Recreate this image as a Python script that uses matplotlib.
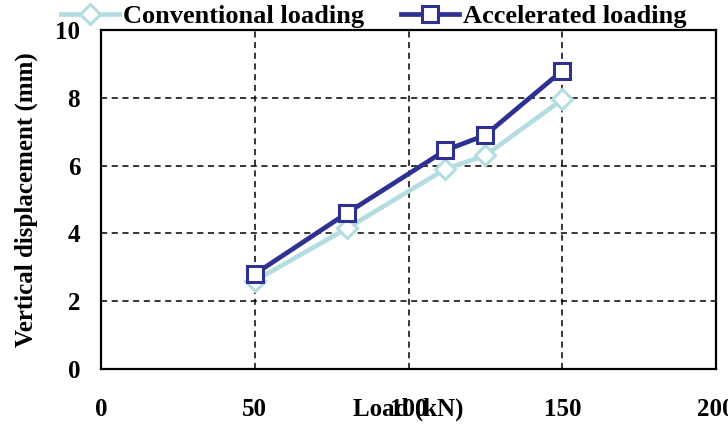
import matplotlib
matplotlib.use('Agg')
import matplotlib.pyplot as plt

# values
load_conv = [50, 80, 112, 125, 150]
disp_conv = [2.6, 4.15, 5.9, 6.3, 7.95]
load_acc = [50, 80, 112, 125, 150]
disp_acc = [2.8, 4.6, 6.45, 6.9, 8.8]

x_ticks = [0, 50, 100, 150, 200]
y_ticks = [0, 2, 4, 6, 8, 10]

light_blue = '#B3DDE0'
dark_blue = '#2E3192'

plt.rcParams['font.family'] = ['Liberation Serif', 'DejaVu Serif']
plt.rcParams['font.weight'] = 'bold'

fig = plt.figure(figsize=(7.28, 4.32), dpi=100)
ax = fig.add_axes((101/728, 63/432, 615/728, 339/432))

ax.plot(load_conv, disp_conv, '-D', color=light_blue, lw=3.4, markersize=10,
        markerfacecolor='white', markeredgecolor=light_blue, markeredgewidth=2.2,
        label='Conventional loading', zorder=3)
ax.plot(load_acc, disp_acc, '-s', color=dark_blue, lw=3.4, markersize=12,
        markerfacecolor='white', markeredgecolor=dark_blue, markeredgewidth=2.2,
        label='Accelerated loading', zorder=4)

ax.set_xlim(0, 200)
ax.set_ylim(0, 10)
ax.set_xticks(x_ticks)
ax.set_yticks(y_ticks)
ax.tick_params(axis='both', length=0, labelsize=18)
ax.tick_params(axis='x', pad=21)
ax.tick_params(axis='y', pad=15)
ax.grid(True, color='black', linestyle=(0, (4, 3)), linewidth=1.1)
for s in ax.spines.values():
    s.set_linewidth(1.6)
    s.set_color('black')

ax.set_xlabel('Load (kN)', fontsize=18, fontweight='bold', labelpad=-17)
ax.set_ylabel('Vertical displacement (mm)', fontsize=18, fontweight='bold', labelpad=12)

fig.legend(loc='center', bbox_to_anchor=(374/728, 1 - 16/432), ncol=2, frameon=False,
           handlelength=2.2, handletextpad=0.15, columnspacing=1.4,
           prop={'weight': 'bold', 'size': 19})

fig.savefig('out.png', dpi=100)
